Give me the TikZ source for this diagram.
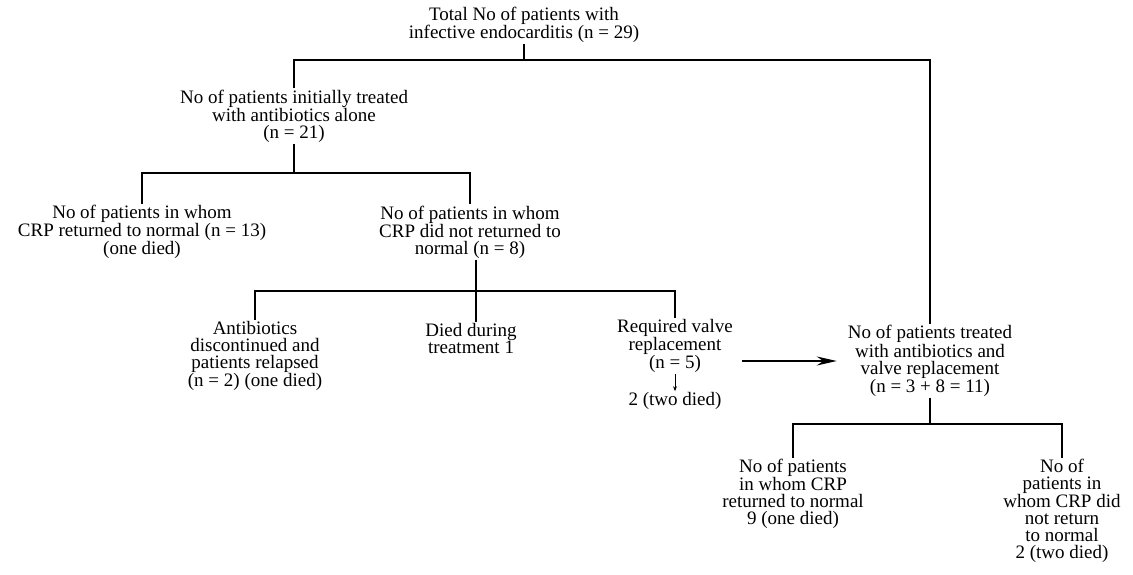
\documentclass[tikz,border=0pt]{standalone}
\usepackage{fontspec}
\setmainfont{Liberation Serif}
\usetikzlibrary{arrows.meta}

\begin{document}
\begin{tikzpicture}[x=1pt,y=-1pt,
	box/.style={align=center,inner sep=1pt,font=\fontsize{19}{17}\selectfont},
	tree/.style={line width=1.8pt},
	bigarrow/.style={line width=1.8pt,-{Stealth[length=20pt,width=9pt]}},
	smallarrow/.style={line width=0.8pt,-{Stealth[length=5pt,width=4pt]}}]
				\useasboundingbox (0,0) rectangle (1133,575);
				
				\node[box] (total) at (524,25) {Total No of patients with\\infective endocarditis (n = 29)};
				\node[box] (initial) at (294,116) {No of patients initially treated\\with antibiotics alone\\(n = 21)};
				\node[box] (crpok) at (142,232) {No of patients in whom\\CRP returned to normal (n = 13)\\(one died)};
				\node[box] (crpnot) at (470,232) {No of patients in whom\\CRP did not returned to\\normal (n = 8)};
				\node[box] (relapse) at (255,356) {Antibiotics\\discontinued and\\patients relapsed\\(n = 2) (one died)};
				\node[box] (death) at (471,338) {Died during\\treatment 1};
				\node[box] (valve) at (675,346) {Required valve\\replacement\\(n = 5)};
				\node[box] (valvedied) at (675,401) {2 (two died)};
				\node[box] (both) at (930,361) {No of patients treated\\with antibiotics and\\valve replacement\\(n = 3 + 8 = 11)};
				\node[box] (bothok) at (793,494) {No of patients\\in whom CRP\\returned to normal\\9 (one died)};
				\node[box] (bothnot) at (1062,511) {No of\\patients in\\whom CRP did\\not return\\to normal\\2 (two died)};
				
				\coordinate (s1) at (524,60);
				\coordinate (s2) at (294,173);
				\coordinate (s3) at (476,291);
				\coordinate (s4) at (930,424);
				
				\draw[tree] (total.south) -- (s1);
				\draw[tree] (initial.north) |- (s1) -| (both.north);
				\draw[tree] (initial.south) -- (s2);
				\draw[tree] (crpok.north) |- (s2) -| (crpnot.north);
				\draw[tree] (crpnot.south -| s3) -- (s3);
				\draw[tree] (relapse.north) |- (s3) -| (valve.north);
				\draw[tree] (s3) -- (s3 |- death.north);
				\draw[tree] (both.south) -- (s4);
				\draw[tree] (bothok.north) |- (s4) -| (bothnot.north);
				
				\draw[smallarrow] (valve.south) -- (valvedied.north);
				\draw[bigarrow,shorten <=8pt,shorten >=10pt] (valve.east |- both.west) -- (both.west);
			\end{tikzpicture}
\end{document}
